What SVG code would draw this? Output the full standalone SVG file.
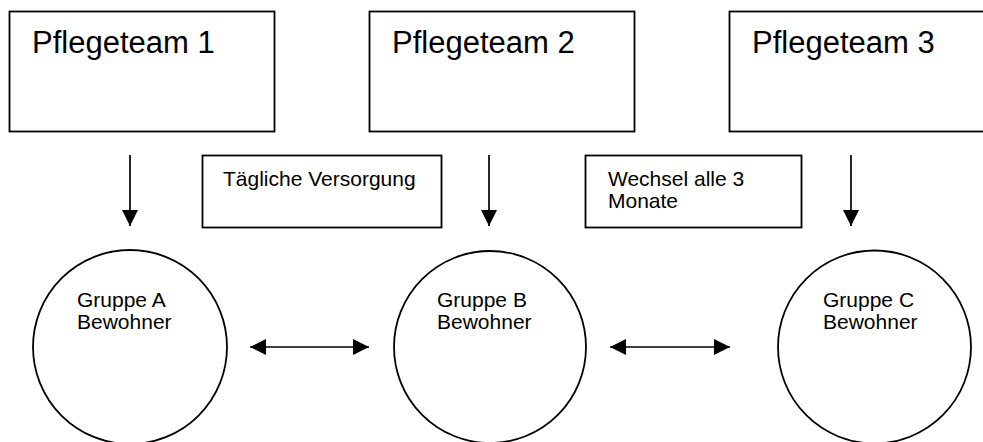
<svg xmlns="http://www.w3.org/2000/svg" width="983" height="442" viewBox="0 0 983 442">
<style>
.box{fill:#fff;stroke:#000;stroke-width:1.8}
.big{font-family:"Liberation Sans",Arial,sans-serif;font-size:31px;fill:#000}
.small{font-family:"Liberation Sans",Arial,sans-serif;font-size:21px;fill:#000}
.conn{stroke:#000;stroke-width:1.7;fill:none}
</style>
<defs>
<marker id="ah" markerUnits="userSpaceOnUse" markerWidth="16" markerHeight="16" viewBox="0 0 15 15" refX="15" refY="7.5" orient="auto-start-reverse">
<path d="M0,0 L15,7.5 L0,15 Z" fill="#000"/>
</marker>
</defs>
<rect width="983" height="442" fill="#fff"/>
<g id="team1"><rect class="box" x="9.5" y="11.5" width="265" height="120"/><text class="big" x="32" y="53">Pflegeteam 1</text></g>
<g id="team2"><rect class="box" x="369.5" y="11.5" width="265" height="120"/><text class="big" x="392" y="53">Pflegeteam 2</text></g>
<g id="team3"><rect class="box" x="729.5" y="11.5" width="270" height="120"/><text class="big" x="752" y="53">Pflegeteam 3</text></g>
<g id="label1"><rect class="box" x="202.5" y="155.5" width="239" height="72"/><text class="small" x="223" y="186">Tägliche Versorgung</text></g>
<g id="label2"><rect class="box" x="585.5" y="155.5" width="216" height="72"/><text class="small" x="608" y="186">Wechsel alle 3</text><text class="small" x="608" y="208">Monate</text></g>
<g id="groupA"><circle class="box" cx="130" cy="347" r="97"/><text class="small" x="77" y="307">Gruppe A</text><text class="small" x="77" y="329">Bewohner</text></g>
<g id="groupB"><circle class="box" cx="490" cy="347" r="96"/><text class="small" x="437" y="307">Gruppe B</text><text class="small" x="437" y="329">Bewohner</text></g>
<g id="groupC"><circle class="box" cx="874.5" cy="347" r="96.5"/><text class="small" x="823" y="307">Gruppe C</text><text class="small" x="823" y="329">Bewohner</text></g>
<g id="connectors">
<line class="conn" x1="130" y1="155" x2="130" y2="226" marker-end="url(#ah)"/>
<line class="conn" x1="489" y1="155" x2="489" y2="226" marker-end="url(#ah)"/>
<line class="conn" x1="851" y1="155" x2="851" y2="226" marker-end="url(#ah)"/>
<line class="conn" x1="250" y1="347" x2="369" y2="347" marker-start="url(#ah)" marker-end="url(#ah)"/>
<line class="conn" x1="610" y1="347" x2="730" y2="347" marker-start="url(#ah)" marker-end="url(#ah)"/>
</g>
</svg>
